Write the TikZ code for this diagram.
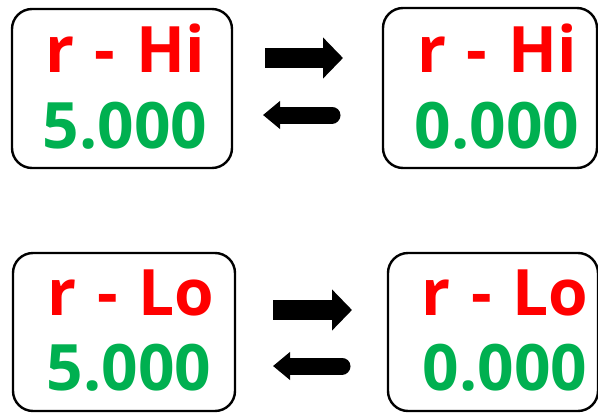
\documentclass[tikz,border=0pt]{standalone}
\usepackage{fontspec}
\setmainfont{Open Sans}
\newfontfamily\widespaced[WordSpace=1.25]{Open Sans}
\usetikzlibrary{arrows.meta}
\definecolor{lblred}{RGB}{255,0,0}
\definecolor{lblgreen}{RGB}{0,176,80}
\tikzset{
  panel/.style={draw=black, line width=2.4pt, rounded corners=20pt, inner sep=0pt},
  namelbl/.style={anchor=base, text=lblred, font=\widespaced\fontsize{64}{64}\selectfont\bfseries, inner sep=0pt},
  vallbl/.style={anchor=base, text=lblgreen, font=\fontsize{64}{64}\selectfont\bfseries, inner sep=0pt},
  fwd/.style={line width=20pt, -{Triangle[length=20pt,width=40pt]}},
  back/.style={line width=17pt, line cap=round, -{Triangle[length=17pt,width=27pt]}},
}
\begin{document}
\begin{tikzpicture}[x=1pt, y=-1pt]
\useasboundingbox (0,0) rectangle (598,413);
% panels
\node[panel, minimum width=220pt, minimum height=159pt] (hiA) at (122,88.5) {};
\node[panel, minimum width=214pt, minimum height=160pt] (hiB) at (490,88) {};
\node[panel, minimum width=222pt, minimum height=158pt] (loA) at (124,332) {};
\node[panel, minimum width=210pt, minimum height=158pt] (loB) at (493,332) {};
% labels
\node[namelbl] (hiAn) at (125,72) {r - Hi};
\node[vallbl]  (hiAv) at (125,148) {5.000};
\node[namelbl] (hiBn) at (497,72) {r - Hi};
\node[vallbl]  (hiBv) at (497,148) {0.000};
\node[namelbl] (loAn) at (131,315) {r - Lo};
\node[vallbl]  (loAv) at (129,390) {5.000};
\node[namelbl] (loBn) at (505,315) {r - Lo};
\node[vallbl]  (loBv) at (505,390) {0.000};
% arrow end points
\coordinate (hiF1) at (265,58);
\coordinate (hiF2) at (343,58);
\coordinate (hiR1) at (332,115);
\coordinate (hiR2) at (263,115);
\coordinate (loF1) at (273,310);
\coordinate (loF2) at (352,310);
\coordinate (loR1) at (342,366);
\coordinate (loR2) at (273,366);
% arrows
\draw[fwd] (hiF1) -- (hiF2);
\draw[back] (hiR1) -- (hiR2);
\draw[fwd] (loF1) -- (loF2);
\draw[back] (loR1) -- (loR2);
\end{tikzpicture}
\end{document}
